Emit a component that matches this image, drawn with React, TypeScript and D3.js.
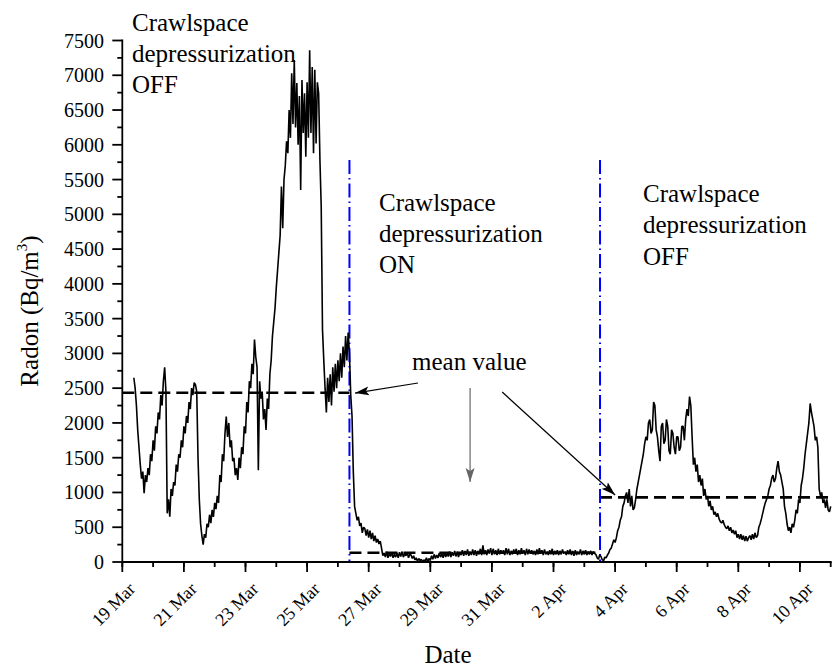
import React from "react";
import * as d3 from "d3";

// ---------- DATA ----------
// Radon concentration (Bq/m3), hourly readings starting 19 Mar 09:00
const SERIES_START = "2013-03-19T09:00:00Z";
const STEP_HOURS = 1;
const radon: number[] = [
  2650, 2500, 2250, 1900, 1650, 1400, 1200, 1300, 990, 1250, 1150, 1350, 1250, 1550, 1450, 1750, 1600, 1950, 1850, 2150, 2050, 2400, 2250, 2600,
  2800, 2450, 700, 900, 650, 1050, 950, 1150, 1100, 1400, 1300, 1550, 1500, 1750, 1650, 1950, 1850, 2100, 2000, 2300, 2200, 2500, 2400, 2580,
  2550, 2450, 1500, 900, 550, 380, 250, 400, 350, 550, 500, 680, 560, 750, 650, 850, 760, 950, 850, 1250, 1150, 1550, 1450, 1850,
  2090, 1800, 2000, 1650, 1750, 1450, 1500, 1250, 1350, 1180, 1500, 1350, 1650, 1550, 1950, 1850, 2300, 2150, 2600, 2500, 2850, 2700, 3200, 2950,
  2800, 1320, 2600, 2350, 2450, 2050, 2200, 1900, 2350, 2200, 2700, 2900, 3250, 3450, 3650, 3950, 4200, 4450, 4700, 5400, 4800, 5500, 5700, 6050,
  5880, 6500, 6100, 7030, 6300, 7220, 6250, 6890, 6000, 6700, 5350, 6930, 6170, 6740, 5830, 6900, 6100, 7360, 6170, 7120, 5880, 7080, 6020, 6900,
  6740, 5780, 5110, 3340, 2900, 2500, 2150, 2650, 2300, 2700, 2250, 2800, 2450, 2850, 2500, 2900, 2600, 3000, 2650, 3100, 2800, 3250, 2900, 3300,
  3000, 2400, 2100, 1300, 800, 700, 600, 650, 520, 560, 420, 500, 480, 380, 470, 350, 450, 330, 420, 300, 380, 280, 330, 260,
  300, 200, 90, 130, 70, 150, 60, 120, 80, 140, 60, 110, 70, 130, 60, 140, 80, 150, 70, 120, 90, 140, 60, 110,
  100, 50, 90, 30, 60, 10, 50, 20, 40, 0, 30, 10, 60, 0, 50, 20, 90, 40, 110, 50, 100, 60, 130, 70,
  120, 60, 140, 70, 130, 80, 150, 70, 140, 90, 160, 80, 150, 70, 140, 100, 170, 90, 160, 100, 180, 90, 150, 100,
  180, 100, 170, 90, 160, 110, 190, 100, 240, 110, 170, 100, 180, 120, 200, 100, 190, 110, 170, 100, 190, 110, 170, 120,
  170, 100, 200, 110, 190, 100, 160, 110, 180, 120, 190, 100, 170, 110, 200, 120, 170, 100, 190, 110, 180, 120, 170, 110,
  160, 100, 180, 110, 200, 120, 170, 100, 180, 110, 150, 100, 170, 110, 190, 100, 160, 110, 170, 100, 160, 110, 180, 120,
  150, 100, 170, 110, 180, 100, 160, 90, 170, 100, 150, 110, 180, 100, 160, 110, 170, 100, 150, 110, 160, 100, 150, 120,
  110, 60, 40, 100, 80, 30, 20, 70, 60, 100, 130, 180, 200, 260, 320, 280, 350, 450, 500, 600, 650, 800, 850, 950,
  1000, 850, 1050, 800, 950, 750, 780, 900, 1050, 1150, 1250, 1350, 1450, 1550, 1700, 1800, 1750, 2000, 2050, 1850, 1900, 2300, 2250, 1900,
  1800, 1600, 1450, 1950, 2000, 1700, 1750, 2050, 1950, 1600, 1550, 1900, 1850, 1650, 1550, 1800, 1800, 1600, 1650, 1950, 1950, 1750, 2050, 2200,
  2100, 2380, 2250, 1800, 1400, 1500, 1300, 1400, 1150, 1250, 1100, 1200, 950, 1050, 900, 950, 800, 880, 750, 800, 680, 720, 650, 700,
  620, 580, 560, 600, 540, 500, 480, 520, 450, 500, 420, 460, 400, 450, 350, 400, 330, 400, 320, 380, 300, 370, 300, 350,
  380, 320, 400, 330, 420, 350, 380, 500, 550, 620, 700, 780, 850, 900, 950, 1050, 1100, 1200, 1250, 1150, 1200, 1350, 1450, 1300,
  1250, 1150, 1050, 800, 700, 550, 450, 500, 420, 550, 500, 600, 750, 700, 900, 850, 1100, 1200, 1350, 1550, 1700, 1850, 2000, 2280,
  2150, 2050, 1950, 1750, 1800, 1650, 1050, 950, 1000, 850, 900, 780, 900, 750, 720, 800,
];

// Mean value per period
const meanStarts = ["2013-03-19T00:00:00Z", "2013-03-26T09:00:00Z", "2013-04-03T12:15:00Z"];
const meanEnds = ["2013-03-26T09:00:00Z", "2013-04-03T12:15:00Z", "2013-04-11T00:00:00Z"];
const meanValues = [2435, 134, 930];

// Depressurization switch times (vertical blue lines)
const switchTimes = ["2013-03-26T09:00:00Z", "2013-04-03T12:15:00Z"];
const switchTop = 5780;

// Axis
const xDomain = ["2013-03-19T00:00:00Z", "2013-04-11T00:00:00Z"];
const majorTickDates = [
  "2013-03-19", "2013-03-21", "2013-03-23", "2013-03-25", "2013-03-27", "2013-03-29",
  "2013-03-31", "2013-04-02", "2013-04-04", "2013-04-06", "2013-04-08", "2013-04-10",
];
const yMajorTicks = [0, 500, 1000, 1500, 2000, 2500, 3000, 3500, 4000, 4500, 5000, 5500, 6000, 6500, 7000, 7500];

// "mean value" arrows: [from time, from value, to time, to value]
const arrowFromTimes = ["2013-03-28T14:24:00Z", "2013-03-30T07:00:00Z", "2013-03-31T08:00:00Z"];
const arrowFromValues = [2574, 2502, 2445];
const arrowToTimes = ["2013-03-26T13:20:00Z", "2013-03-30T07:00:00Z", "2013-04-04T00:00:00Z"];
const arrowToValues = [2430, 1150, 963];
const arrowColors = ["#000", "#666", "#000"];

// ---------- CHART ----------
const W = 836;
const H = 668;
const FONT = "'Liberation Serif', 'Times New Roman', serif";

export default function App() {
  const x = d3
    .scaleUtc()
    .domain(xDomain.map((d) => new Date(d)))
    .range([122.3, 830.7]);
  const y = d3.scaleLinear().domain([0, 7500]).range([562, 40.5]);

  const t0 = new Date(SERIES_START).getTime();
  const data = radon.map((v, i) => ({ t: new Date(t0 + i * STEP_HOURS * 3600e3), v }));
  const line = d3
    .line<{ t: Date; v: number }>()
    .x((d) => x(d.t))
    .y((d) => y(d.v));

  const fmt = d3.utcFormat("%-d %b");
  const majorDates = majorTickDates.map((d) => new Date(d + "T00:00:00Z"));
  const [d0, d1] = x.domain();
  const minorDates = d3.utcDay.range(d0, d3.utcDay.offset(d1, 1));
  const yMinor = d3.range(250, 7500, 500);

  const y0 = y(0);
  const xLeft = x(d0);

  return (
    <svg
      width={W}
      height={H}
      style={{ position: "absolute", left: 0, top: 0, background: "#fff" }}
      fontFamily={FONT}
    >
      <defs>
        {arrowColors.map((c, i) => (
          <marker
            key={i}
            id={`ah${i}`}
            viewBox="0 0 14 10"
            refX="14"
            refY="5"
            markerWidth="14"
            markerHeight="10"
            markerUnits="userSpaceOnUse"
            orient="auto"
          >
            <path d="M0,0.5 L14,5 L0,9.5 L3,5 Z" fill={c} />
          </marker>
        ))}
      </defs>

      {/* mean dashed lines */}
      {meanValues.map((m, i) => (
        <line
          key={"m" + i}
          x1={x(new Date(meanStarts[i]))}
          x2={x(new Date(meanEnds[i]))}
          y1={y(m)}
          y2={y(m)}
          stroke="#000"
          strokeWidth={2.6}
          strokeDasharray="12,6"
        />
      ))}

      {/* switch lines */}
      {switchTimes.map((s, i) => (
        <line
          key={"s" + i}
          x1={x(new Date(s))}
          x2={x(new Date(s))}
          y1={y(switchTop)}
          y2={y0}
          stroke="#0000ff"
          strokeWidth={2}
          strokeDasharray="14,4,1.5,4"
        />
      ))}

      {/* data */}
      <path d={line(data) || ""} fill="none" stroke="#000" strokeWidth={1.6} strokeLinejoin="bevel" />

      {/* arrows */}
      {arrowColors.map((c, i) => (
        <line
          key={"a" + i}
          x1={x(new Date(arrowFromTimes[i]))}
          y1={y(arrowFromValues[i])}
          x2={x(new Date(arrowToTimes[i]))}
          y2={y(arrowToValues[i])}
          stroke={c}
          strokeWidth={1.2}
          markerEnd={`url(#ah${i})`}
        />
      ))}

      {/* axes */}
      <line x1={xLeft} x2={xLeft} y1={y(7500) - 1} y2={y0} stroke="#000" strokeWidth={1.8} />
      <line x1={xLeft} x2={x(d1) + 1} y1={y0} y2={y0} stroke="#000" strokeWidth={1.8} />

      {yMajorTicks.map((t) => (
        <g key={"y" + t}>
          <line x1={xLeft - 10} x2={xLeft} y1={y(t)} y2={y(t)} stroke="#000" strokeWidth={1.8} />
          <text x={104} y={y(t)} dy="0.35em" textAnchor="end" fontSize={20}>
            {t}
          </text>
        </g>
      ))}
      {yMinor.map((t) => (
        <line key={"ym" + t} x1={xLeft - 5} x2={xLeft} y1={y(t)} y2={y(t)} stroke="#000" strokeWidth={1.8} />
      ))}

      {minorDates.map((d, i) => (
        <line key={"xm" + i} x1={x(d)} x2={x(d)} y1={y0} y2={y0 + 5} stroke="#000" strokeWidth={1.8} />
      ))}
      {majorDates.map((d, i) => (
        <g key={"x" + i}>
          <line x1={x(d)} x2={x(d)} y1={y0} y2={y0 + 10} stroke="#000" strokeWidth={1.8} />
          <text
            transform={`translate(${x(d) + 14},${y0 + 28}) rotate(-45)`}
            textAnchor="end"
            fontSize={18}
          >
            {fmt(d)}
          </text>
        </g>
      ))}

      {/* axis titles */}
      <text x={448} y={663} textAnchor="middle" fontSize={25}>
        Date
      </text>
      <text transform="translate(38,311) rotate(-90)" textAnchor="middle" fontSize={25}>
        Radon (Bq/m
        <tspan fontSize={15} dy={-11}>
          3
        </tspan>
        <tspan dy={11}>)</tspan>
      </text>

      {/* annotations */}
      <g fontSize={25}>
        <text x={132} y={31}>Crawlspace</text>
        <text x={132} y={62}>depressurization</text>
        <text x={132} y={93}>OFF</text>

        <text x={379} y={211}>Crawlspace</text>
        <text x={379} y={242}>depressurization</text>
        <text x={379} y={273}>ON</text>

        <text x={643} y={202}>Crawlspace</text>
        <text x={643} y={233}>depressurization</text>
        <text x={643} y={265}>OFF</text>

        <text x={412} y={370}>mean value</text>
      </g>
    </svg>
  );
}
